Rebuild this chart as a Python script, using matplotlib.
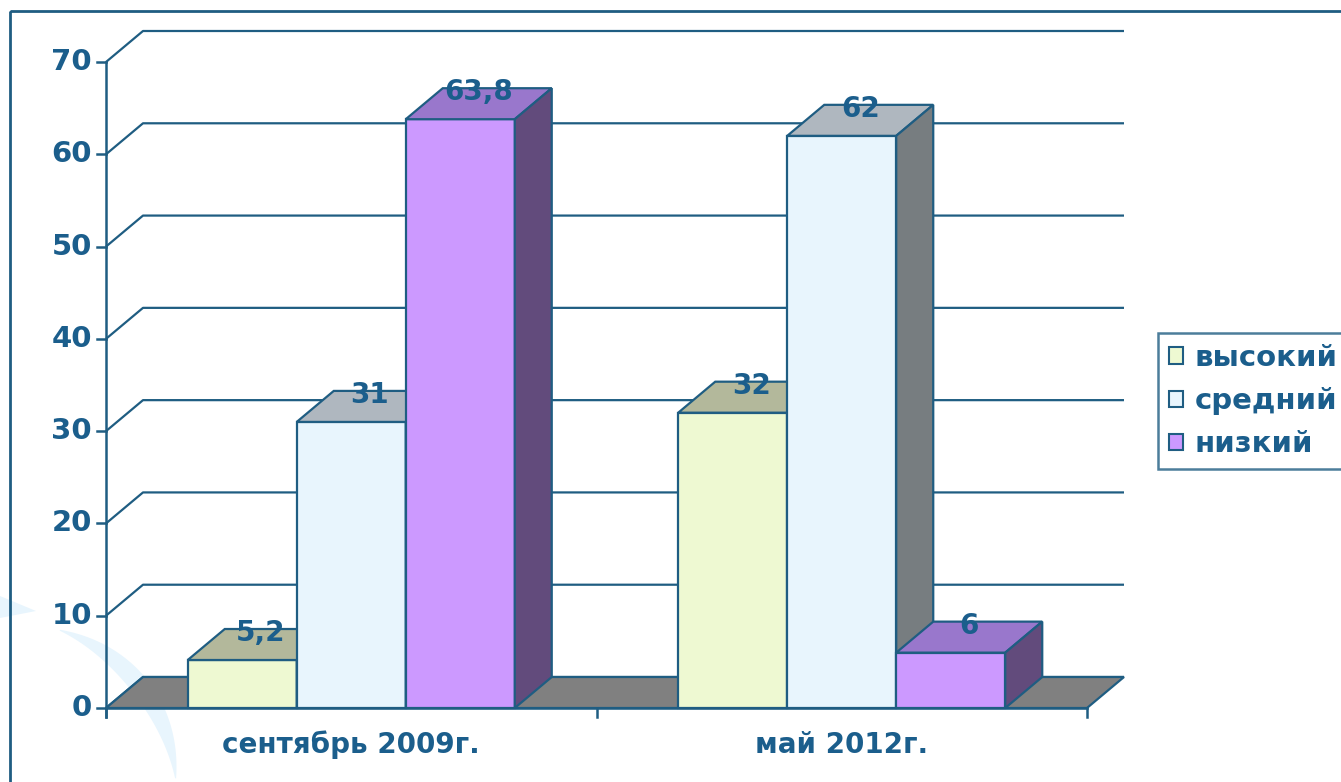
import matplotlib
matplotlib.use("Agg")
import matplotlib.pyplot as plt
from matplotlib.patches import Polygon, Rectangle
import numpy as np

# ---- data ----
categories = ["сентябрь 2009г.", "май 2012г."]
series_names = ["высокий", "средний", "низкий"]
vysokiy = [5.2, 32]
sredniy = [31, 62]
nizkiy = [63.8, 6]
yticks = [0, 10, 20, 30, 40, 50, 60, 70]

series_values = [vysokiy, sredniy, nizkiy]

# ---- style ----
front_colors = ["#EEF9D2", "#E8F5FD", "#CC99FF"]
top_colors = ["#B3B89B", "#AFB7BF", "#9977CC"]
side_colors = ["#8E9279", "#777D80", "#624B7C"]
floor_color = "#808080"
edge = "#1F5D82"
txt = "#1B5E8C"
W, H = 1341, 782
fig = plt.figure(figsize=(W / 100, H / 100), dpi=100)
fig.patch.set_facecolor("white")

# decorative background swoosh (watermark)
bg = fig.add_axes([0, 0, 1, 1], zorder=0)
bg.set_xlim(0, W)
bg.set_ylim(H, 0)
bg.axis("off")
t = np.radians(np.linspace(4, 72, 80))
wth = 18 * np.sin(np.pi * (t - t[0]) / (t[-1] - t[0])) + 1
cx, cy, R = 8, 790, 168
outer = np.c_[cx + (R + wth / 2) * np.cos(t), cy - (R + wth / 2) * np.sin(t)]
inner = np.c_[cx + (R - wth / 2) * np.cos(t), cy - (R - wth / 2) * np.sin(t)]
bg.add_patch(Polygon(np.vstack([outer, inner[::-1]]), closed=True,
                     facecolor="#E8F5FD", edgecolor="none"))
bg.add_patch(Polygon([[0, 596], [36, 611], [0, 618]], closed=True,
                     facecolor="#E8F5FD", edgecolor="none"))
# outer frame
bg.add_patch(Rectangle((10, 11), W + 20, H + 20, fill=False, ec=edge, lw=2))

left_px, right_px, y0_px, y70_px = 106, 1087, 708, 62
ax = fig.add_axes([left_px / W, (H - y0_px) / H, (right_px - left_px) / W,
                   (y0_px - y70_px) / H], zorder=1)
ax.set_xlim(-0.5, 1.5)
ax.set_ylim(0, 70)
ax.axis("off")
ax.patch.set_alpha(0)

px_per_x = (right_px - left_px) / 2.0
px_per_y = (y0_px - y70_px) / 70.0
DX = 37 / px_per_x
DY = 31 / px_per_y
x0, x1 = -0.5, 1.5

# back wall gridlines
for v in yticks:
    ax.plot([x0, x0 + DX, x1 + DX], [v, v + DY, v + DY], color=edge, lw=1.6,
            clip_on=False, zorder=1, solid_capstyle="butt")

# floor
ax.add_patch(Polygon([[x0, 0], [x1, 0], [x1 + DX, DY], [x0 + DX, DY]],
                     closed=True, facecolor=floor_color, edgecolor=edge,
                     lw=1.6, clip_on=False, zorder=2))

# bars
bw = 1 / 4.5
offsets = [-bw, 0, bw]
z = 3
for ci in range(len(categories)):
    for si in range(len(series_names)):
        v = series_values[si][ci]
        xc = ci + offsets[si]
        xl, xr = xc - bw / 2, xc + bw / 2
        ax.bar([xc], [v], width=bw, color=front_colors[si], edgecolor=edge,
               lw=1.6, zorder=z, clip_on=False)
        ax.add_patch(Polygon([[xl, v], [xr, v], [xr + DX, v + DY], [xl + DX, v + DY]],
                             closed=True, facecolor=top_colors[si], edgecolor=edge,
                             lw=1.6, zorder=z, clip_on=False))
        ax.add_patch(Polygon([[xr, 0], [xr + DX, DY], [xr + DX, v + DY], [xr, v]],
                             closed=True, facecolor=side_colors[si], edgecolor=edge,
                             lw=1.6, zorder=z, clip_on=False))
        z += 1

# data labels
for ci in range(len(categories)):
    for si in range(len(series_names)):
        v = series_values[si][ci]
        xc = ci + offsets[si]
        lab = f"{v:g}".replace(".", ",")
        ax.text(xc + DX / 2, v + 27 / px_per_y, lab, ha="center", va="center",
                fontsize=20, fontweight="bold", color=txt, zorder=50, clip_on=False)

# axes lines
ax.plot([x0, x0], [-9 / px_per_y, 70], color=edge, lw=1.8, clip_on=False, zorder=30)
ax.plot([x0, x1], [0, 0], color=edge, lw=1.8, clip_on=False, zorder=30)
for v in yticks:
    ax.plot([x0 - 9 / px_per_x, x0], [v, v], color=edge, lw=1.8, clip_on=False, zorder=30)
    ax.text(x0 - 14 / px_per_x, v, str(v), ha="right", va="center", fontsize=21,
            fontweight="bold", color=txt, clip_on=False)
for xt in [-0.5, 0.5, 1.5]:
    ax.plot([xt, xt], [0, -9 / px_per_y], color=edge, lw=1.8, clip_on=False, zorder=30)
for ci, c in enumerate(categories):
    ax.text(ci, -37 / px_per_y, c, ha="center", va="center", fontsize=20,
            fontweight="bold", color=txt, clip_on=False)

# legend
handles = [Rectangle((0, 0), 1, 1, facecolor=front_colors[i], edgecolor=edge, lw=1.5)
           for i in range(3)]
leg = fig.legend(handles, series_names, loc="center left",
                 bbox_to_anchor=(1158 / W, 1 - 401 / H), frameon=True,
                 prop={"size": 21, "weight": "bold"}, handlelength=0.48,
                 handleheight=0.48, handletextpad=0.42, labelspacing=0.52,
                 borderpad=0.36, borderaxespad=0, fancybox=False)
leg.get_frame().set_edgecolor(edge)
leg.get_frame().set_linewidth(1.8)
for tx in leg.get_texts():
    tx.set_color(txt)

fig.savefig("out.png", dpi=100, facecolor="white")
